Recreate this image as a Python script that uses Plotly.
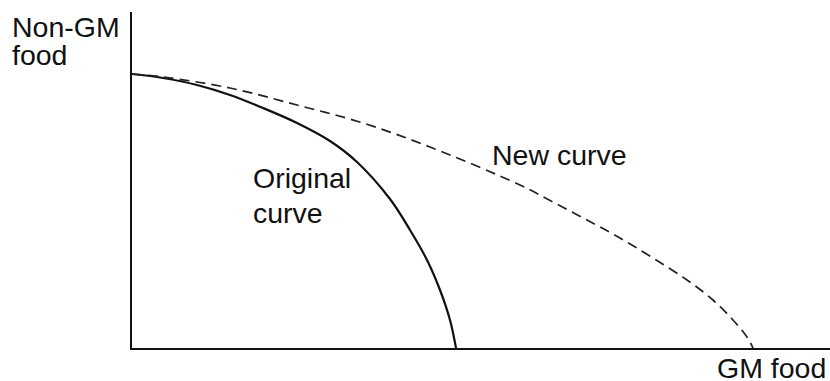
import plotly.graph_objects as go

# Production possibility curves (arbitrary units)
orig_gm = [0.0, 3.1, 6.5, 9.8, 13.1, 16.5, 19.8, 22.5, 25.8, 27.8, 29.5, 30.8, 31.8, 32.4]
orig_nongm = [27.4, 27.0, 26.3, 25.3, 24.0, 22.5, 20.7, 18.6, 14.9, 11.8, 8.8, 5.8, 2.8, 0.0]

new_gm = [0.0, 3.1, 9.8, 16.5, 23.1, 29.8, 38.8, 42.1, 45.5, 48.8, 52.1, 55.5, 58.1, 60.1, 61.5, 62.1]
new_nongm = [27.4, 27.1, 26.0, 24.3, 22.5, 20.1, 16.3, 14.6, 12.8, 11.0, 9.0, 6.8, 4.8, 2.8, 1.1, 0.0]

X_MAX = 69.8
Y_MAX = 33.6

FONT = "Liberation Sans, Arial, Helvetica, sans-serif"

fig = go.Figure()
fig.add_trace(go.Scatter(x=orig_gm, y=orig_nongm, mode="lines",
                         line=dict(color="#111111", width=2.2, shape="spline", smoothing=1.0),
                         showlegend=False, hoverinfo="skip"))
fig.add_trace(go.Scatter(x=new_gm, y=new_nongm, mode="lines",
                         line=dict(color="#222222", width=1.7, shape="spline", smoothing=1.0,
                                   dash="10px,6px"),
                         showlegend=False, hoverinfo="skip"))

labels = [
    ("Non-GM", -12.2, 32.1, "left"),
    ("food", -12.2, 29.3, "left"),
    ("Original", 11.9, 17.0, "left"),
    ("curve", 11.9, 13.5, "left"),
    ("New curve", 35.8, 19.3, "left"),
    ("GM food", 69.6, -2.0, "right"),
]
for txt, x, y, anchor in labels:
    fig.add_annotation(x=x / X_MAX, y=y / Y_MAX, xref="paper", yref="paper", text=txt,
                       showarrow=False, xanchor=anchor, yanchor="middle",
                       font=dict(family=FONT, size=28.5, color="#111111"))

fig.update_xaxes(range=[0, X_MAX], showline=True, linecolor="#111111", linewidth=2,
                 showgrid=False, zeroline=False, showticklabels=False, ticks="")
fig.update_yaxes(range=[0, Y_MAX], showline=True, linecolor="#111111", linewidth=2,
                 showgrid=False, zeroline=False, showticklabels=False, ticks="")

fig.update_layout(width=830, height=381, margin=dict(l=132, r=0, t=12, b=33),
                  plot_bgcolor="white", paper_bgcolor="white",
                  font=dict(family=FONT))

fig.write_html("out.html",
               config={"displayModeBar": False},
               post_script="document.body.style.margin='0';"
                           "document.body.style.overflow='hidden';")
